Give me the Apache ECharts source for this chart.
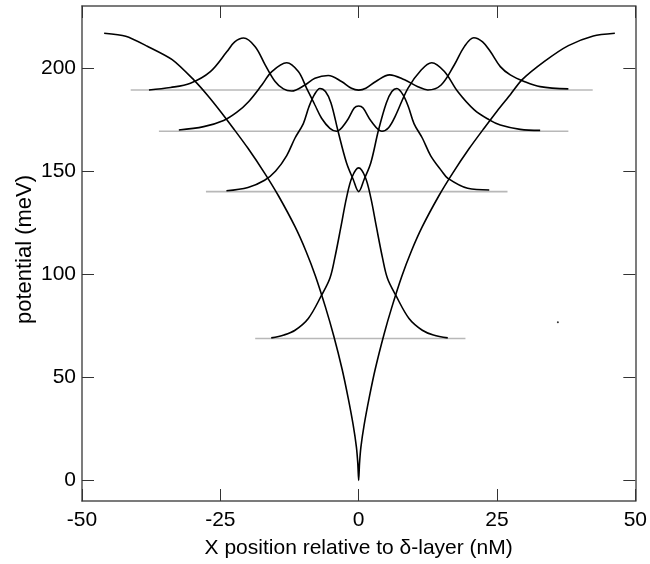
<!DOCTYPE html>
<html>
<head>
<meta charset="utf-8">
<script src="https://cdn.jsdelivr.net/npm/echarts@6/dist/echarts.min.js"></script>
<style>
html, body { margin: 0; padding: 0; background: #fff; }
#myChart { width: 650px; height: 564px; }
</style>
</head>
<body>
<div id="myChart"></div>
<script>
// potential well (meV) vs position (nm)
var potX = [-46.0, -42.1, -38.2, -33.7, -29.8, -27.4, -25.0, -22.6, -20.0, -17.0, -14.5, -11.5, -9.5, -7.8, -6.0, -4.5, -3.0, -1.9, -1.0, -0.4, -0.15, 0,
            0.15, 0.4, 1.0, 1.9, 3.0, 4.6, 6.0, 7.8, 9.5, 11.5, 14.5, 17.0, 20.0, 22.6, 25.0, 27.4, 29.5, 33.7, 37.9, 42.4, 46.3];
var potY = [216.8, 215.3, 210.5, 204, 194.2, 187, 179, 170.5, 161, 149, 138, 123, 111, 99, 84, 70, 54, 40, 27, 16, 8, 0,
            8, 16, 27, 40, 54, 71, 84, 99, 111, 123, 138, 149, 161, 170.5, 179, 187, 194.2, 203.4, 210.8, 215.5, 216.8];

// probability densities, drawn on top of their energy level
var w1X = [-15.8, -13.5, -11.5, -9.1, -6.7, -5.2, -4.3, -3.2, -2.2, -1.2, 0, 1.2, 2.2, 3.2, 4.3, 5.2, 6.7, 9.1, 11.5, 13.5, 16.1];
var w1Y = [69.1, 70.5, 72.8, 78.5, 89.8, 98, 108, 123, 137, 147, 151.5, 147, 137, 123, 108, 98, 89.8, 78.5, 72.8, 70.5, 69.1];

var w2X = [-23.9, -20.0, -17.0, -15.0, -13.0, -11.5, -10.0, -9.0, -8.0, -7.0, -6.0, -5.0, -3.7, -2.2, -1.0, 0,
           1.0, 2.2, 3.6, 5.0, 6.0, 6.9, 8.0, 9.0, 10.0, 11.5, 13.0, 15.0, 16.1, 19.7, 23.6];
var w2Y = [140.4, 142, 145.5, 150, 157.5, 166, 173, 181, 187, 190, 188.5, 183, 169, 154, 146, 140,
           146, 154, 170, 183, 188.5, 190, 187, 181, 173, 166, 157.5, 150, 146.5, 141.6, 140.8];

var w3X = [-32.5, -28.0, -24.4, -22.0, -19.9, -17.5, -15.7, -13.0, -10.9, -9.4, -7.9, -6.7, -5.2, -4.0, -2.2, -0.8, 0,
           0.8, 2.3, 4.2, 5.4, 6.6, 8.9, 11.3, 13.2, 15.5, 17.9, 20.9, 23.6, 25.6, 29.2, 32.8];
var w3Y = [169.9, 171.5, 174.5, 178.5, 183.6, 191.7, 198.2, 202.5, 198.2, 190.1, 182, 175.6, 170.7, 169.3, 174, 180.5, 181.5,
           180.5, 174, 169.3, 171, 176.5, 190.1, 199, 202.5, 198.2, 188.5, 179.6, 174.8, 172.3, 170.2, 169.7];

var w4X = [-37.9, -34.0, -30.4, -26.8, -23.8, -22.4, -20.8, -18.7, -16.9, -15.1, -13.6, -12.1, -9.7, -7.9, -5.5, -3.1, -1.3, 0,
           1.3, 3.1, 5.6, 8.3, 10.7, 12.5, 14.9, 17.3, 19.1, 20.8, 22.4, 23.8, 25.6, 27.4, 29.9, 32.8, 37.9];
var w4Y = [189.3, 190.5, 192.6, 198.2, 207.9, 212.6, 214.5, 210.3, 201.5, 193.4, 189.8, 188.8, 191.7, 195, 196.3, 193.4, 190.1, 189.2,
           190.1, 193.4, 196.6, 194.2, 190.9, 189.3, 191.7, 201.5, 210.3, 214.6, 212.6, 207.9, 200.6, 196.6, 193.4, 190.9, 189.8];

// energy levels (meV) and the x range of each level line
var levelE = [68.8, 140.0, 169.3, 189.3];
var levelStart = [-18.7, -27.6, -36.1, -41.2];
var levelEnd = [19.3, 26.9, 37.9, 42.3];

// stray mark on the original figure
var strayPt = [[36.0, 76.7]];

var xTicks = [-50, -25, 0, 25, 50];
var yTicks = [0, 50, 100, 150, 200];

function pairs(xs, ys) {
    return xs.map(function (x, i) { return [x, ys[i]]; });
}

var font = 'Liberation Sans, Arial, Helvetica, sans-serif';
var boxLine = { show: true, onZero: false, lineStyle: { color: '#505050', width: 1.5 } };
var tick = { show: true, inside: true, length: 12, lineStyle: { color: '#333', width: 1 } };

var series = [];
levelE.forEach(function (e, i) {
    series.push({
        type: 'line',
        data: [[levelStart[i], e], [levelEnd[i], e]],
        showSymbol: false,
        lineStyle: { color: '#b8b8b8', width: 1.6 },
        z: 1
    });
});
[[potX, potY, 0.25], [w1X, w1Y, 0.35], [w2X, w2Y, 0.35], [w3X, w3Y, 0.35], [w4X, w4Y, 0.35]].forEach(function (c) {
    series.push({
        type: 'line',
        data: pairs(c[0], c[1]),
        showSymbol: false,
        smooth: c[2],
        lineStyle: { color: '#000', width: 1.6 },
        z: 2
    });
});
series.push({
    type: 'scatter',
    data: strayPt,
    symbolSize: 2,
    itemStyle: { color: '#000' },
    z: 2
});

var myChart = echarts.init(document.getElementById('myChart'));
myChart.setOption({
    animation: false,
    backgroundColor: '#fff',
    grid: { left: 82, right: 12, top: 6, bottom: 63, containLabel: false },
    xAxis: [{
        type: 'value', min: -50, max: 50, interval: 25, position: 'bottom',
        axisLine: boxLine, axisTick: tick,
        axisLabel: { fontSize: 21, color: '#000', margin: 9, fontFamily: font },
        splitLine: { show: false },
        name: 'X position relative to \u03b4-layer (nM)',
        nameLocation: 'middle', nameGap: 37,
        nameTextStyle: { fontSize: 21, color: '#000', fontFamily: font }
    }, {
        type: 'value', min: -50, max: 50, interval: 25, position: 'top',
        axisLine: boxLine, axisTick: tick,
        axisLabel: { show: false }, splitLine: { show: false }
    }],
    yAxis: [{
        type: 'value', min: -10, max: 230, position: 'left',
        axisLine: boxLine,
        axisTick: { show: true, inside: true, length: 12, lineStyle: { color: '#333', width: 1 }, customValues: yTicks },
        axisLabel: { fontSize: 21, color: '#000', margin: 6, fontFamily: font, customValues: yTicks },
        splitLine: { show: false },
        name: 'potential (meV)',
        nameLocation: 'middle', nameGap: 46, nameMoveOverlap: false,
        nameTextStyle: { fontSize: 22, color: '#000', fontFamily: font, padding: [0, 0, 0, 8] }
    }, {
        type: 'value', min: -10, max: 230, position: 'right',
        axisLine: boxLine,
        axisTick: { show: true, inside: true, length: 12, lineStyle: { color: '#333', width: 1 }, customValues: yTicks },
        axisLabel: { show: false }, splitLine: { show: false }
    }],
    series: series
});
</script>
</body>
</html>
